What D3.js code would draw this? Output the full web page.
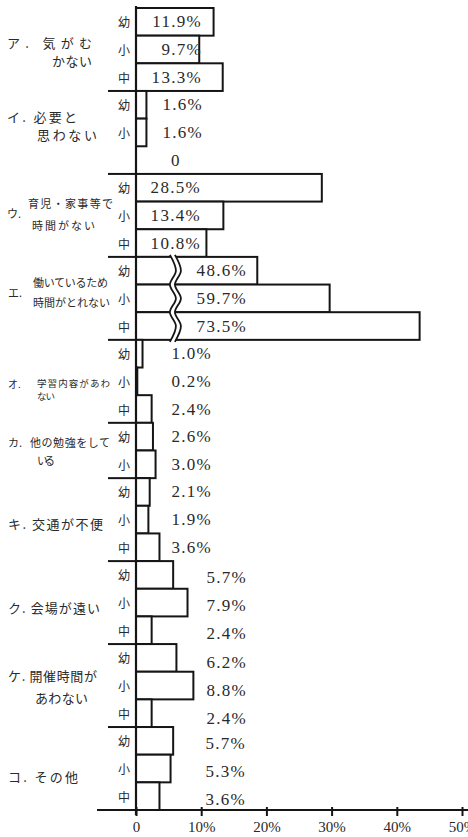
<!DOCTYPE html>
<html><head><meta charset="utf-8">
<script src="https://cdn.jsdelivr.net/npm/d3@7"></script>
<style>body{margin:0;background:#fff}svg{display:block}</style>
</head><body><svg id="c" width="468" height="837"></svg>
<script>
// ---- data ----
const groups = ["ア","イ","ウ","エ","オ","カ","キ","ク","ケ","コ"];
const categories = [
  ["ア. 気がむ", "かない"],
  ["イ. 必要と", "思わない"],
  ["ウ.", "育児・家事等で", "時間がない"],
  ["エ.", "働いているため", "時間がとれない"],
  ["オ.", "学習内容があわ", "ない"],
  ["カ.", "他の勉強をして", "いる"],
  ["キ. 交通が不便"],
  ["ク. 会場が遠い"],
  ["ケ. 開催時間が", "あわない"],
  ["コ. その他"]
];
const schools = ["幼", "小", "中"];
const youchien = [11.9, 1.6, 28.5, 48.6, 1.0, 2.6, 2.1, 5.7, 6.2, 5.7];
const shougakkou = [9.7, 1.6, 13.4, 59.7, 0.2, 3.0, 1.9, 7.9, 8.8, 5.3];
const chuugakkou = [13.3, 0, 10.8, 73.5, 2.4, null, 3.6, 2.4, 2.4, 3.6];
const tickValues = [0, 10, 20, 30, 40, 50];
const tickLabels = ["0", "10%", "20%", "30%", "40%", "50%"];
const breakGroup = 3, breakAmount = 30;

// ---- layout (not data) ----
// per line: [x, dy from group centre, textLength, fontSize]
const catLayout = [
  [[7, -7, 85, 13], [52, 11, 40, 13]],
  [[7, -15.5, 70, 13], [37, 2.5, 60, 13]],
  [[7, -2.5, 0, 11], [28, -12.5, 85, 11], [32, 9.5, 63, 11]],
  [[8, -6, 0, 11], [33, -16, 75, 11], [33, 4, 77, 11]],
  [[8, 2, 0, 10], [37, 2, 73, 9.5], [37, 15, 18, 9.5]],
  [[8, -8.5, 0, 11], [30, -8.5, 80, 11], [37, 9.5, 18, 11]],
  [[8, 3.5, 95, 13]],
  [[8, 5, 92, 13]],
  [[8, -10.5, 89, 13], [35, 11.5, 53, 13]],
  [[8, 8, 70, 13]]
];
const valueRight = [202, 203, 201, 247, 212, 212, 212, 247, 247, 246];
const valueDy = [0, 0, 0, 0, 0, 0, 0, 3, 5, 3];

const svg = d3.select("#c");
const ink = "#151515", txt = "#2a2a2a";
const serif = "'Liberation Serif','DejaVu Serif',serif";
const jp = "'Noto Sans CJK JP','Noto Sans CJK SC',sans-serif";

const series = [youchien, shougakkou, chuugakkou];
const rows = [];
groups.forEach((g, i) => series.forEach((s, k) => {
  if (s[i] !== null) rows.push({ g: i, k, v: s[i], id: i + "-" + k });
}));

const y = d3.scaleBand().domain(rows.map(r => r.id)).range([8, 810]).padding(0);
const x = d3.scaleLinear().domain([0, 50]).range([136, 462]);
const bw = y.bandwidth();
const barEnd = r => x(r.g === breakGroup ? r.v - breakAmount : r.v);

// group extents
const gInfo = groups.map((g, i) => {
  const rs = rows.filter(r => r.g === i);
  const top = y(rs[0].id), bot = y(rs[rs.length - 1].id) + bw;
  return { top, bot, mid: (top + bot) / 2 };
});

// separators
svg.append("g").selectAll("line").data(gInfo.slice(0, -1)).join("line")
  .attr("x1", 108).attr("x2", x(0)).attr("y1", d => d.bot).attr("y2", d => d.bot)
  .attr("stroke", ink).attr("stroke-width", 2);

// bars
svg.append("g").selectAll("rect").data(rows.filter(r => r.v > 0)).join("rect")
  .attr("x", x(0)).attr("y", r => y(r.id))
  .attr("width", r => barEnd(r) - x(0)).attr("height", bw)
  .attr("fill", "#fff").attr("stroke", ink).attr("stroke-width", 2);

// break symbol
const bRows = rows.filter(r => r.g === breakGroup);
const xb = x(5.2);
const wpts = [{ x: xb, y: gInfo[breakGroup].top - 2 }];
bRows.forEach(r => {
  wpts.push({ x: xb + 6, y: y(r.id) + bw / 2 });
  wpts.push({ x: xb, y: y(r.id) + bw });
});
wpts[wpts.length - 1].y += 2;
const area = d3.area().y(d => d.y).x0(d => d.x).x1(d => d.x + 5).curve(d3.curveCatmullRom);
const wline = d3.line().y(d => d.y).x(d => d.x).curve(d3.curveCatmullRom);
svg.append("path").attr("d", area(wpts)).attr("fill", "#fff");
[0, 5].forEach(o => svg.append("path").attr("d", wline(wpts.map(p => ({ x: p.x + o, y: p.y }))))
  .attr("fill", "none").attr("stroke", ink).attr("stroke-width", 1.8));

// vertical zero line
svg.append("line").attr("x1", x(0)).attr("x2", x(0)).attr("y1", 6).attr("y2", 815)
  .attr("stroke", ink).attr("stroke-width", 2.2);

// x axis
svg.append("line").attr("x1", 97).attr("x2", 468).attr("y1", 810).attr("y2", 810)
  .attr("stroke", ink).attr("stroke-width", 2.2);
const ax = svg.append("g").attr("transform", "translate(0,810)")
  .call(d3.axisBottom(x).tickValues(tickValues).tickSize(6).tickFormat((d, i) => tickLabels[i]));
ax.select(".domain").remove();
ax.selectAll(".tick line").attr("y1", -3).attr("y2", 6).attr("stroke", ink).attr("stroke-width", 2);
ax.selectAll(".tick text").attr("y", 11).attr("dy", "0.71em")
  .attr("font-family", serif).attr("font-size", 15).attr("fill", txt);

// school labels
svg.append("g").selectAll("text").data(rows.filter(r => r.v > 0)).join("text")
  .attr("x", 124).attr("y", r => y(r.id) + bw / 2)
  .attr("text-anchor", "middle").attr("dominant-baseline", "central")
  .attr("font-family", jp).attr("font-size", 12).attr("fill", txt)
  .text(r => schools[r.k]);

// value labels
svg.append("g").selectAll("text").data(rows).join("text")
  .attr("x", r => r.v === 0 ? valueRight[r.g] - 27 : valueRight[r.g])
  .attr("y", r => y(r.id) + bw / 2 + valueDy[r.g])
  .attr("text-anchor", r => r.v === 0 ? "middle" : "end")
  .attr("dominant-baseline", "central")
  .attr("font-family", serif).attr("font-size", 17).attr("letter-spacing", 1.3)
  .attr("fill", txt)
  .text(r => r.v === 0 ? "0" : r.v.toFixed(1) + "%");

// category labels
categories.forEach((lines, i) => {
  lines.forEach((t, j) => {
    const [lx, dy, len, fs] = catLayout[i][j];
    const el = svg.append("text").attr("x", lx).attr("y", gInfo[i].mid + dy)
      .attr("dominant-baseline", "central")
      .attr("font-family", jp).attr("font-size", fs).attr("fill", txt).text(t);
    if (len) el.attr("textLength", len).attr("lengthAdjust", "spacing");
  });
});
</script></body></html>
